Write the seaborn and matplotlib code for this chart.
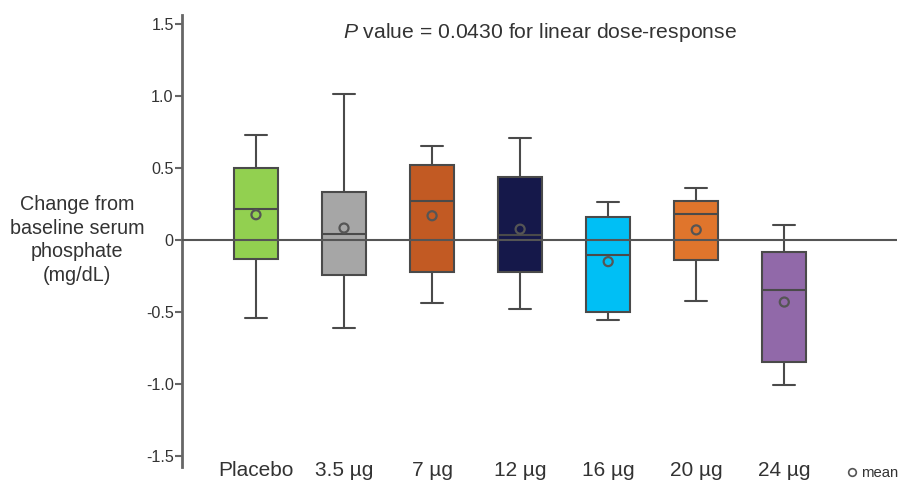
import numpy as np
import pandas as pd
import matplotlib
matplotlib.use("Agg")
import matplotlib.pyplot as plt
import seaborn as sns
from matplotlib.lines import Line2D

groups = ["Placebo", "3.5 µg", "7 µg", "12 µg", "16 µg", "20 µg", "24 µg"]
whisker_low = [-0.54, -0.61, -0.44, -0.48, -0.555, -0.42, -1.005]
q1 = [-0.13, -0.24, -0.225, -0.225, -0.50, -0.14, -0.845]
median = [0.215, 0.04, 0.27, 0.035, -0.105, 0.18, -0.345]
q3 = [0.50, 0.335, 0.52, 0.435, 0.157, 0.272, -0.085]
whisker_high = [0.73, 1.01, 0.65, 0.705, 0.26, 0.36, 0.105]
means = [0.175, 0.083, 0.168, 0.075, -0.15, 0.07, -0.43]
colors = ["#92d050", "#a6a6a6", "#c25a23", "#15184a", "#00bff5", "#e0752c", "#9169a9"]
ytick_vals = [1.5, 1.0, 0.5, 0.0, -0.5, -1.0, -1.5]
ytick_labels = ["1.5", "1.0", "0.5", "0", "-0.5", "-1.0", "-1.5"]

# five-number summary per group (quartiles reproduced exactly with whis=(0,100))
rows = []
for g, a, b, c, d, e in zip(groups, whisker_low, q1, median, q3, whisker_high):
    for v in (a, b, c, d, e):
        rows.append({"group": g, "value": v})
df = pd.DataFrame(rows)
mean_df = pd.DataFrame({"group": groups, "mean": means})

sns.set_style("ticks")
plt.rcParams["font.family"] = ["Liberation Sans", "DejaVu Sans"]
plt.rcParams["mathtext.fontset"] = "custom"
plt.rcParams["mathtext.it"] = "Liberation Sans:italic"
plt.rcParams["mathtext.rm"] = "Liberation Sans"

fig = plt.figure(figsize=(9.06, 4.8), dpi=100)
ax = fig.add_axes([182 / 906, 13 / 480, (897 - 182) / 906, 452 / 480])

edge = "#4a4a4a"
sns.boxplot(data=df, x="group", y="value", hue="group", order=groups,
            hue_order=groups, palette=colors, whis=(0, 100), width=0.5,
            saturation=1, linecolor=edge, linewidth=1.5, fliersize=0,
            legend=False, ax=ax)

ax.axhline(0, color="#555555", lw=1.5, zorder=4)

n_before = len(ax.collections)
sns.stripplot(data=mean_df, x="group", y="mean", order=groups, jitter=False,
              size=6.5, color="#555555", edgecolor="#555555", linewidth=1.6,
              ax=ax, zorder=5)
for coll in ax.collections[n_before:]:
    coll.set_facecolor("none")
    coll.set_edgecolor("#555555")

txt = "#333333"
ax.set_xlim(-0.84, 7.28)
ax.set_ylim(-1.573, 1.559)
ax.set_yticks(ytick_vals)
ax.set_yticklabels(ytick_labels, fontsize=11.6, color=txt)
ax.tick_params(axis="y", length=5, width=1.5, color="#666666", pad=1)
ax.tick_params(axis="x", length=0, pad=-4, labelsize=15, labelcolor=txt)
ax.set_xlabel("")
ax.set_ylabel("")
for s in ["top", "right", "bottom"]:
    ax.spines[s].set_visible(False)
ax.spines["left"].set_color("#666666")
ax.spines["left"].set_linewidth(2)

fig.text(77 / 906, 1 - 240 / 480,
         "Change from\nbaseline serum\nphosphate\n(mg/dL)",
         ha="center", va="center", fontsize=14.2, linespacing=1.3,
         color=txt)
fig.text(540 / 906, 1 - 33 / 480,
         r"$\it{P}$ value = 0.0430 for linear dose-response",
         ha="center", va="center", fontsize=15.2, color=txt)

handle = Line2D([], [], marker="o", linestyle="none", markerfacecolor="none",
                markeredgecolor="#555555", markersize=5.5, markeredgewidth=1.2)
fig.legend([handle], ["mean"], loc="center left",
           bbox_to_anchor=(845 / 906, 1 - 473 / 480), frameon=False,
           fontsize=10.7, handletextpad=0.1, borderpad=0, handlelength=1.0,
           borderaxespad=0, labelcolor=txt)

fig.savefig("out.png", dpi=100)
